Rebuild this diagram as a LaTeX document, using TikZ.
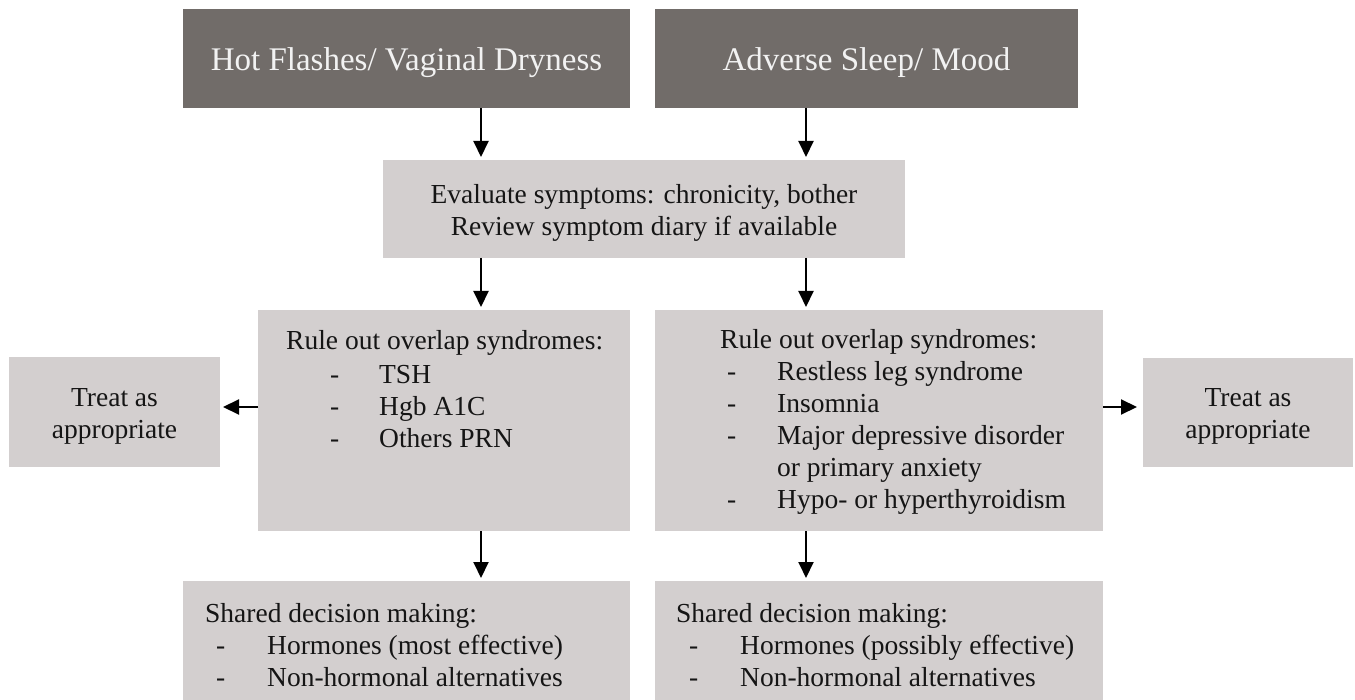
\documentclass[tikz,border=0pt]{standalone}
\usepackage{fontspec}
\setmainfont{Liberation Serif}
\usetikzlibrary{arrows.meta}
\definecolor{darkbox}{HTML}{716C69}
\definecolor{lightbox}{HTML}{D3CFCF}
\definecolor{whitetext}{HTML}{F2F2F2}
\definecolor{bodytext}{HTML}{151515}
\tikzset{
  boxbase/.style={rectangle, inner sep=0pt, outer sep=0pt, anchor=north west},
  darkrect/.style={boxbase, fill=darkbox},
  lightrect/.style={boxbase, fill=lightbox},
  toptext/.style={text=whitetext, font=\fontsize{33}{38}\selectfont, inner sep=0pt, yshift=-4pt},
  bodyfont/.style={text=bodytext, font=\fontsize{27.5}{32}\selectfont, inner sep=0pt},
  listtext/.style={bodyfont, align=left, anchor=north west},
  centertext/.style={bodyfont, align=center, yshift=-4pt},
  arr/.style={line width=2pt, -{Triangle[length=16pt,width=15pt]}, shorten >=3pt}
}
\begin{document}
\begin{tikzpicture}[x=1pt, y=-1pt]
\useasboundingbox (0,0) rectangle (1355,700);
% boxes
\node[darkrect, minimum width=447pt, minimum height=99pt] (top1) at (183,9) {};
\node[darkrect, minimum width=423pt, minimum height=99pt] (top2) at (655,9) {};
\node[lightrect, minimum width=522pt, minimum height=98pt] (eval) at (383,160) {};
\node[lightrect, minimum width=372pt, minimum height=221pt] (ruleL) at (258,310) {};
\node[lightrect, minimum width=448pt, minimum height=221pt] (ruleR) at (655,310) {};
\node[lightrect, minimum width=211pt, minimum height=110pt] (treatL) at (9,357) {};
\node[lightrect, minimum width=210pt, minimum height=109pt] (treatR) at (1143,358) {};
\node[lightrect, minimum width=447pt, minimum height=119pt] (shareL) at (183,581) {};
\node[lightrect, minimum width=448pt, minimum height=119pt] (shareR) at (655,581) {};
% texts
\node[toptext] (t1) at (top1.center) {Hot Flashes/ Vaginal Dryness};
\node[toptext] (t2) at (top2.center) {Adverse Sleep/ Mood};
\node[centertext] (tev) at (eval.center) {Evaluate symptoms: chronicity, bother\\Review symptom diary if available};
\node[centertext] (ttl) at (treatL.center) {Treat as\\appropriate};
\node[centertext] (ttr) at (treatR.center) {Treat as\\appropriate};
\node[listtext] (trl) at (286,330) {Rule out overlap syndromes:\\[2.5pt]
\hspace*{44pt}\makebox[49pt][l]{-}TSH\\
\hspace*{44pt}\makebox[49pt][l]{-}Hgb A1C\\
\hspace*{44pt}\makebox[49pt][l]{-}Others PRN};
\node[listtext] (trr) at (720,329) {Rule out overlap syndromes:\\
\hspace*{7pt}\makebox[50pt][l]{-}Restless leg syndrome\\
\hspace*{7pt}\makebox[50pt][l]{-}Insomnia\\
\hspace*{7pt}\makebox[50pt][l]{-}Major depressive disorder\\
\hspace*{57pt}or primary anxiety\\
\hspace*{7pt}\makebox[50pt][l]{-}Hypo- or hyperthyroidism};
\node[listtext] (tsl) at (205,603) {Shared decision making:\\
\hspace*{11pt}\makebox[51pt][l]{-}Hormones (most effective)\\
\hspace*{11pt}\makebox[51pt][l]{-}Non-hormonal alternatives};
\node[listtext] (tsr) at (676,603) {Shared decision making:\\
\hspace*{13pt}\makebox[51pt][l]{-}Hormones (possibly effective)\\
\hspace*{13pt}\makebox[51pt][l]{-}Non-hormonal alternatives};
% column coordinates
\coordinate (cL) at (481,0);
\coordinate (cR) at (806,0);
\coordinate (rowM) at (0,407);
% connectors
\draw[arr] (top1.south -| cL) -- (eval.north -| cL);
\draw[arr] (top2.south -| cR) -- (eval.north -| cR);
\draw[arr] (eval.south -| cL) -- (ruleL.north -| cL);
\draw[arr] (eval.south -| cR) -- (ruleR.north -| cR);
\draw[arr] (ruleL.south -| cL) -- (shareL.north -| cL);
\draw[arr] (ruleR.south -| cR) -- (shareR.north -| cR);
\draw[arr] (ruleL.west |- rowM) -- (treatL.east |- rowM);
\draw[arr, shorten >=6pt] (ruleR.east |- rowM) -- (treatR.west |- rowM);
\end{tikzpicture}
\end{document}
